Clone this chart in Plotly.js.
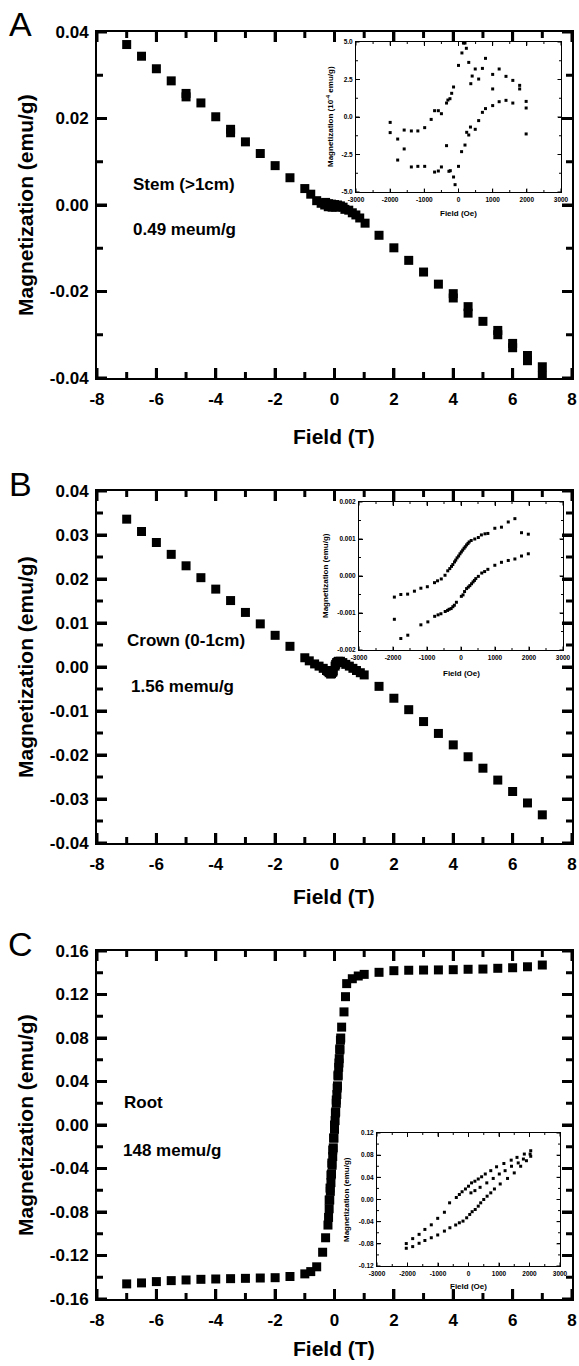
<!DOCTYPE html>
<html><head><meta charset="utf-8">
<script src="https://cdn.plot.ly/plotly-3.0.1.min.js"></script>
<style>html,body{margin:0;padding:0;background:#fff}</style>
</head><body><div id="chart" style="width:579px;height:1366px"></div>
<script>
// ---------- Panel A (Stem) ----------
const A_field = [-7,-6.5,-6,-5.5,-5,-5,-4.5,-4,-3.5,-3.5,-3,-2.5,-2,-1.5,-1,
  -0.8,-0.6,-0.45,-0.33,-0.21,-0.08,0.04,0.17,0.29,0.35,0.48,0.6,0.72,0.85,1.03,
  -0.3,-0.2,-0.1,0,0.1,0.2,
  1.5,2,2.5,3,3.5,4,4,4.5,4.5,5,5.5,5.5,6,6,6.5,6.5,7,7];
const A_mag = [0.0371,0.0344,0.0315,0.0287,0.0258,0.0250,0.0236,0.0204,0.0175,0.0167,0.0146,0.0119,0.0091,0.0063,0.0038,
  0.0025,0.0010,0.0004,0.0000,-0.0004,-0.0005,-0.0005,-0.0004,-0.0005,-0.0010,-0.0012,-0.0018,-0.0023,-0.0030,-0.0042,
  0.0006,0.0003,0.0002,0.0001,0.0000,-0.0002,
  -0.0070,-0.0099,-0.0128,-0.0155,-0.0183,-0.0205,-0.0215,-0.0235,-0.0250,-0.0269,-0.0290,-0.0300,-0.0320,-0.0330,-0.0348,-0.0360,-0.0374,-0.0394];
// Panel A inset (Oe ; 1e-4 emu/g)
const IA_field = [-2000,-2000,-1780,-1780,-1590,-1590,-1380,-1380,-1190,-1190,-990,-990,-800,-700,-700,-590,-590,-500,-500,-350,-350,-310,-280,-250,-240,-200,-145,-145,-100,0,0,100,145,190,230,90,190,240,300,300,350,360,400,490,490,590,590,700,700,790,790,1000,1000,1000,1190,1190,1390,1390,1590,1590,1790,1790,1980,1980,1980];
const IA_mag = [-0.36,-1.04,-1.47,-2.87,-2.13,-0.87,-0.93,-3.33,-0.93,-3.29,-0.71,-3.29,-0.16,0.42,-3.67,0.42,-3.6,0.22,-3.33,0.93,-1.91,1.13,-3.62,1.22,-3.58,1.58,2.0,-4.0,-4.51,-3.29,3.44,4.27,4.93,4.93,4.58,-2.31,-1.87,-1.02,-1.2,3.64,-0.67,2.22,2.73,-0.82,3.2,-0.24,2.53,3.24,0.31,0.56,3.91,2.84,1.87,0.76,3.2,1.02,2.71,1.11,2.44,0.93,2.11,1.87,1.04,0.6,-1.13];

// ---------- Panel B (Crown) ----------
const B_field = [-7,-6.5,-6,-5.5,-5,-4.5,-4,-3.5,-3,-2.5,-2,-1.5,
  -1,-0.85,-0.67,-0.52,-0.38,-0.27,-0.18,-0.1,-0.04,0.02,0.07,0.13,0.2,0.28,0.38,0.5,0.62,0.74,0.87,1,
  -0.22,-0.13,-0.06,0.04,0.1,0.16,
  1.5,2,2.5,3,3.5,4,4.5,5,5.5,6,6.5,7];
const B_mag = [0.0336,0.0308,0.0283,0.0256,0.0230,0.0203,0.0177,0.0151,0.0124,0.0098,0.0072,0.0047,
  0.0021,0.0014,0.0007,0.0002,-0.0003,-0.0008,-0.0013,-0.0015,-0.0009,0.0002,0.0010,0.0013,0.0013,0.0010,0.0006,0.0002,-0.0003,-0.0008,-0.0013,-0.0018,
  -0.0010,-0.0016,-0.0012,0.0006,0.0011,0.0012,
  -0.0044,-0.0071,-0.0097,-0.0124,-0.0151,-0.0177,-0.0204,-0.0230,-0.0257,-0.0283,-0.0309,-0.0336];
// Panel B inset (Oe ; emu/g)
const IB_field_up = [-1960,-1770,-1570,-1370,-1180,-990,-780,-690,-580,-470,-390,-330,-280,-240,-190,-155,-115,-70,-30,10,50,90,125,165,205,240,300,405,510,600,705,790,995,1190,1390,1585,1780,1980];
const IB_mag_up = [-0.00057,-0.00050,-0.00049,-0.00041,-0.00033,-0.00029,-0.00018,-0.00013,-0.00008,0.00002,0.00014,0.00020,0.00026,0.00031,0.00038,0.00043,0.00049,0.00054,0.00060,0.00065,0.00070,0.00075,0.00079,0.00084,0.00088,0.00092,0.00096,0.00100,0.00104,0.00111,0.00114,0.00115,0.00129,0.00132,0.00146,0.00155,0.00117,0.00113];
const IB_field_down = [1980,1780,1585,1390,1190,995,790,695,610,510,435,395,355,310,260,215,165,105,60,10,-135,-195,-240,-290,-350,-395,-465,-590,-675,-775,-975,-1180,-1565,-1770,-1960];
const IB_mag_down = [0.00060,0.00054,0.00046,0.00042,0.00037,0.00029,0.00018,0.00012,0.00008,-0.00001,-0.00007,-0.00012,-0.00016,-0.00021,-0.00026,-0.00030,-0.00034,-0.00042,-0.00051,-0.00055,-0.00071,-0.00079,-0.00083,-0.00088,-0.00090,-0.00093,-0.00096,-0.00102,-0.00105,-0.00109,-0.00124,-0.00132,-0.00160,-0.00169,-0.00117];

// ---------- Panel C (Root) ----------
const C_field = [-7,-6.5,-6,-5.5,-5,-4.5,-4,-3.5,-3,-2.5,-2,-1.5,-1,-0.8,-0.6,-0.4,-0.3,
  -0.22,-0.2,-0.18,-0.16,-0.14,-0.12,-0.1,-0.08,-0.06,-0.04,-0.02,0,0.02,0.04,0.06,0.08,0.1,0.12,0.14,0.16,0.18,0.2,
  0.24,0.21,0.18,0.15,0.12,0.09,0.06,0.03,0,-0.03,-0.06,-0.09,-0.12,-0.15,-0.18,
  0.32,0.37,0.41,0.6,0.8,1,1.5,2,2.5,3,3.5,4,4.5,5,5.5,6,6.5,7];
const C_mag = [-0.1461,-0.1452,-0.1440,-0.1431,-0.1425,-0.1419,-0.1416,-0.1413,-0.1410,-0.1407,-0.1404,-0.1393,-0.1369,-0.1348,-0.1304,-0.1170,-0.1037,
  -0.092,-0.085,-0.077,-0.069,-0.061,-0.053,-0.045,-0.037,-0.029,-0.021,-0.012,-0.004,0.004,0.012,0.020,0.028,0.036,0.045,0.053,0.061,0.070,0.078,
  0.090,0.080,0.069,0.057,0.046,0.034,0.023,0.011,0.000,-0.012,-0.023,-0.035,-0.046,-0.058,-0.069,
  0.104,0.118,0.130,0.1345,0.137,0.1385,0.1404,0.1419,0.1423,0.1425,0.1426,0.1428,0.1432,0.1434,0.1441,0.1446,0.1455,0.1471];
// Panel C inset (Oe ; emu/g)
const IC_field_up = [2040,1830,1590,1400,1160,920,730,550,430,320,210,100,0,-100,-210,-300,-400,-620,-790,-1010,-1220,-1430,-1620,-1830,-2040];
const IC_mag_up = [0.088,0.082,0.076,0.071,0.065,0.059,0.052,0.046,0.041,0.037,0.033,0.030,0.024,0.019,0.014,0.009,0.0036,-0.006,-0.023,-0.034,-0.0457,-0.054,-0.0629,-0.0706,-0.0795];
const IC_field_low = [-2040,-1830,-1620,-1430,-1220,-1010,-790,-610,-420,-300,-180,-60,40,120,220,320,400,500,610,730,850,1040,1280,1500,1710,1900,2040];
const IC_mag_low = [-0.088,-0.085,-0.079,-0.074,-0.069,-0.064,-0.057,-0.051,-0.046,-0.042,-0.039,-0.033,-0.027,-0.022,-0.018,-0.012,-0.006,0.000,0.006,0.012,0.019,0.028,0.038,0.048,0.060,0.070,0.078];
const IC_field_mid = [80,210,380,600,810,1010,1200,1410,1630,1800,2020];
const IC_mag_mid = [0.012,0.016,0.022,0.030,0.038,0.046,0.052,0.060,0.066,0.073,0.082];

// ---------- Ticks and tick labels ----------
const mainXTicks = [-8,-6,-4,-2,0,2,4,6,8];
const mainXLabels = ['-8','-6','-4','-2','0','2','4','6','8'];
const mainXMinor = [-7,-5,-3,-1,1,3,5,7];
const A_yTicks = [-0.04,-0.02,0,0.02,0.04];
const A_yLabels = ['-0.04','-0.02','0.00','0.02','0.04'];
const A_yMinor = [-0.03,-0.01,0.01,0.03];
const B_yTicks = [-0.04,-0.03,-0.02,-0.01,0,0.01,0.02,0.03,0.04];
const B_yLabels = ['-0.04','-0.03','-0.02','-0.01','0.00','0.01','0.02','0.03','0.04'];
const B_yMinor = [-0.035,-0.025,-0.015,-0.005,0.005,0.015,0.025,0.035];
const C_yTicks = [-0.16,-0.12,-0.08,-0.04,0,0.04,0.08,0.12,0.16];
const C_yLabels = ['-0.16','-0.12','-0.08','-0.04','0.00','0.04','0.08','0.12','0.16'];
const C_yMinor = [-0.14,-0.10,-0.06,-0.02,0.02,0.06,0.10,0.14];
const insetXTicks = [-3000,-2000,-1000,0,1000,2000,3000];
const insetXLabels = ['-3000','-2000','-1000','0','1000','2000','3000'];
const insetXMinor = [-2500,-1500,-500,500,1500,2500];
const IA_yTicks = [-5,-2.5,0,2.5,5];
const IA_yLabels = ['-5.0','-2.5','0.0','2.5','5.0'];
const IA_yMinor = [-3.75,-1.25,1.25,3.75];
const IB_yTicks = [-0.002,-0.001,0,0.001,0.002];
const IB_yLabels = ['-0.002','-0.001','0.000','0.001','0.002'];
const IB_yMinor = [-0.0015,-0.0005,0.0005,0.0015];
const IC_yTicks = [-0.12,-0.08,-0.04,0,0.04,0.08,0.12];
const IC_yLabels = ['-0.12','-0.08','-0.04','0.00','0.04','0.08','0.12'];
const IC_yMinor = [-0.10,-0.06,-0.02,0.02,0.06,0.10];

// ---------- Layout helpers ----------
const W = 579, H = 1366;
const FONT = 'Liberation Sans, Arial, sans-serif';
const px = v => v / W;
const py = v => 1 - v / H;
const dX = (a, b) => [a / W, b / W];
const dY = (top, bot) => [1 - bot / H, 1 - top / H];

function mainAxis(dom, anchor, range, tv, tt, standoff) {
  return {
    domain: dom, anchor: anchor, range: range,
    tickmode: 'array', tickvals: tv, ticktext: tt,
    ticks: 'inside', ticklen: 10, tickwidth: 3, tickcolor: '#000',
    showline: true, linewidth: 2, linecolor: '#000', mirror: 'ticks',
    showgrid: false, zeroline: false, fixedrange: true,
    ticklabelstandoff: standoff,
    tickfont: {family: FONT, size: 17, color: '#000', weight: 'bold'}
  };
}
function insetAxis(dom, anchor, range, tv, tt) {
  return {
    domain: dom, anchor: anchor, range: range,
    tickmode: 'array', tickvals: tv, ticktext: tt,
    ticks: 'inside', ticklen: 3.5, tickwidth: 1, tickcolor: '#000',
    showline: true, linewidth: 1, linecolor: '#000', mirror: 'ticks',
    showgrid: false, zeroline: false, fixedrange: true,
    ticklabelstandoff: 1,
    tickfont: {family: FONT, size: 6.5, color: '#000', weight: 'bold'}
  };
}

const shapes = [];
// inward tick marks on all four sides, placed through the axes' own scales
function addTicks(xa, ya, xVals, yVals, len, width, plotW, plotH) {
  const ln = {color: '#000', width: width};
  xVals.forEach(v => {
    shapes.push({type: 'line', xref: xa, yref: ya + ' domain', x0: v, x1: v, y0: 0, y1: len / plotH, line: ln, layer: 'above'});
    shapes.push({type: 'line', xref: xa, yref: ya + ' domain', x0: v, x1: v, y0: 1, y1: 1 - len / plotH, line: ln, layer: 'above'});
  });
  yVals.forEach(v => {
    shapes.push({type: 'line', xref: xa + ' domain', yref: ya, x0: 0, x1: len / plotW, y0: v, y1: v, line: ln, layer: 'above'});
    shapes.push({type: 'line', xref: xa + ' domain', yref: ya, x0: 1, x1: 1 - len / plotW, y0: v, y1: v, line: ln, layer: 'above'});
  });
}
// main panels: major 10px, minor 6px
addTicks('x', 'y', mainXTicks, A_yTicks, 10, 3, 475, 346);
addTicks('x', 'y', mainXMinor, A_yMinor, 6, 3, 475, 346);
addTicks('x3', 'y3', mainXTicks, B_yTicks, 10, 3, 475, 352);
addTicks('x3', 'y3', mainXMinor, B_yMinor, 6, 3, 475, 352);
addTicks('x5', 'y5', mainXTicks, C_yTicks, 10, 3, 475, 348);
addTicks('x5', 'y5', mainXMinor, C_yMinor, 6, 3, 475, 348);
// insets
addTicks('x2', 'y2', insetXTicks, IA_yTicks, 3.5, 1, 205, 150);
addTicks('x2', 'y2', insetXMinor, IA_yMinor, 2, 1, 205, 150);
addTicks('x4', 'y4', insetXTicks, IB_yTicks, 3.5, 1, 204, 148);
addTicks('x4', 'y4', insetXMinor, IB_yMinor, 2, 1, 204, 148);
addTicks('x6', 'y6', insetXTicks, IC_yTicks, 3.5, 1, 183, 133);
addTicks('x6', 'y6', insetXMinor, IC_yMinor, 2, 1, 183, 133);

const bigMarker = {symbol: 'square', size: 9, color: '#000'};
const smallMarker = {symbol: 'square', size: 3, color: '#000'};
function tr(x, y, xa, ya, marker) {
  return {x: x, y: y, xaxis: xa, yaxis: ya, type: 'scatter', mode: 'markers', marker: marker,
          cliponaxis: false, showlegend: false, hoverinfo: 'skip'};
}

const data = [
  tr(A_field, A_mag, 'x', 'y', bigMarker),
  tr(IA_field, IA_mag, 'x2', 'y2', smallMarker),
  tr(B_field, B_mag, 'x3', 'y3', bigMarker),
  tr(IB_field_up, IB_mag_up, 'x4', 'y4', smallMarker),
  tr(IB_field_down, IB_mag_down, 'x4', 'y4', smallMarker),
  tr(C_field, C_mag, 'x5', 'y5', bigMarker),
  tr(IC_field_up, IC_mag_up, 'x6', 'y6', smallMarker),
  tr(IC_field_low, IC_mag_low, 'x6', 'y6', smallMarker),
  tr(IC_field_mid, IC_mag_mid, 'x6', 'y6', smallMarker)
];

const mainXD = dX(97, 572);
const layout = {
  width: W, height: H, margin: {l: 0, r: 0, t: 0, b: 0},
  paper_bgcolor: '#fff', plot_bgcolor: 'rgba(0,0,0,0)', showlegend: false,
  xaxis: mainAxis(mainXD, 'y', [-8, 8], mainXTicks, mainXLabels, 5),
  yaxis: mainAxis(dY(32, 378), 'x', [-0.04, 0.04], A_yTicks, A_yLabels, 3),
  xaxis2: insetAxis(dX(356, 561), 'y2', [-3000, 3000], insetXTicks, insetXLabels),
  yaxis2: insetAxis(dY(42, 192), 'x2', [-5, 5], IA_yTicks, IA_yLabels),
  xaxis3: mainAxis(mainXD, 'y3', [-8, 8], mainXTicks, mainXLabels, 5),
  yaxis3: mainAxis(dY(491, 843), 'x3', [-0.04, 0.04], B_yTicks, B_yLabels, 3),
  xaxis4: insetAxis(dX(359, 563), 'y4', [-3000, 3000], insetXTicks, insetXLabels),
  yaxis4: insetAxis(dY(502, 650), 'x4', [-0.002, 0.002], IB_yTicks, IB_yLabels),
  xaxis5: mainAxis(mainXD, 'y5', [-8, 8], mainXTicks, mainXLabels, 5),
  yaxis5: mainAxis(dY(951, 1299), 'x5', [-0.16, 0.16], C_yTicks, C_yLabels, 3),
  xaxis6: insetAxis(dX(377, 560), 'y6', [-3000, 3000], insetXTicks, insetXLabels),
  yaxis6: insetAxis(dY(1133, 1266), 'x6', [-0.12, 0.12], IC_yTicks, IC_yLabels),
  shapes: shapes,
  annotations: []
};

function ann(text, x, y, size, opts) {
  const a = Object.assign({text: text, x: px(x), y: py(y), xref: 'paper', yref: 'paper',
    showarrow: false, xanchor: 'center', yanchor: 'middle',
    font: {family: FONT, size: size, color: '#000', weight: 'bold'}}, opts || {});
  layout.annotations.push(a);
}
// panel letters
const letterFont = {family: FONT, size: 34, color: '#000', weight: 'normal'};
ann('A', 20, 24, 34, {font: letterFont});
ann('B', 20, 484, 34, {font: letterFont});
ann('C', 20, 944, 34, {font: letterFont});
// main axis titles
[[205, 436], [667, 896], [1125, 1348]].forEach(p => {
  ann('Magnetization (emu/g)', 25, p[0], 21, {textangle: -90});
  ann('Field (T)', 334, p[1], 21);
});
// in-plot labels
ann('Stem (>1cm)', 131, 184, 17, {xanchor: 'left'});
ann('0.49 meum/g', 131, 229, 17, {xanchor: 'left'});
ann('Crown (0-1cm)', 125, 640, 17, {xanchor: 'left'});
ann('1.56 memu/g', 129, 687, 17, {xanchor: 'left'});
ann('Root', 122, 1102, 17, {xanchor: 'left'});
ann('148 memu/g', 121, 1150, 17, {xanchor: 'left'});
// inset titles
ann('Magnetization (10<sup>-4</sup> emu/g)', 330, 117, 8, {textangle: -90});
ann('Field (Oe)', 458, 214, 8);
ann('Magnetization (emu/g)', 325, 576, 8, {textangle: -90});
ann('Field (Oe)', 461, 673, 8);
ann('Magnetization (emu/g)', 346, 1200, 8, {textangle: -90});
ann('Field (Oe)', 468, 1286, 8);

Plotly.newPlot('chart', data, layout, {staticPlot: true, displayModeBar: false});
</script></body></html>
